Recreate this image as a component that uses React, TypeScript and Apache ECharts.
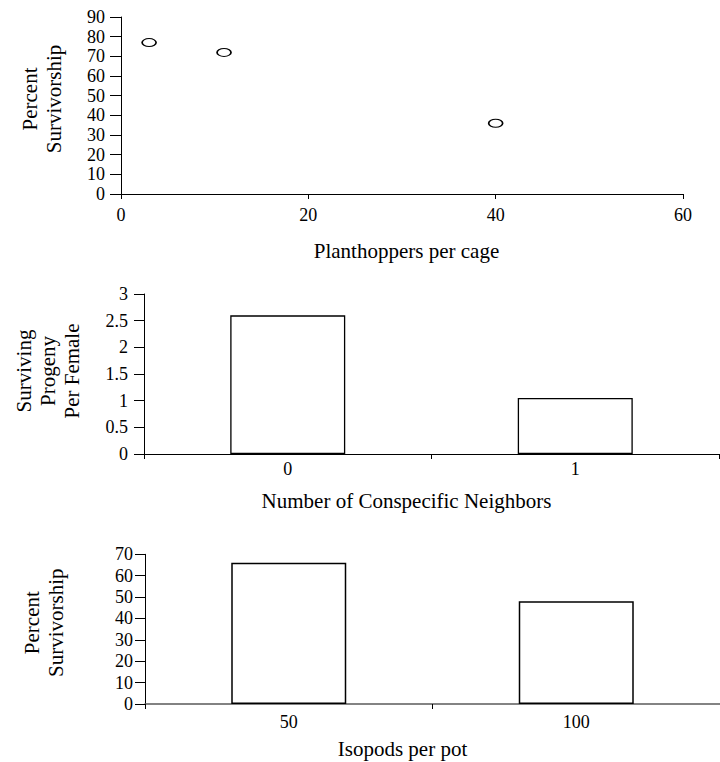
import React, { useEffect, useRef } from "react";
import * as echarts from "echarts";

// ---- Data ----
const planthopperPoints: [number, number][] = [
  [3, 77],
  [11, 72],
  [40, 36],
];
const neighborCategories = ["0", "1"];
const progenyValues = [2.6, 1.05];
const isopodCategories = ["50", "100"];
const isopodSurvival = [66, 48];

const FONT = '"Liberation Serif", "Times New Roman", Times, serif';
const TICK_FONT = 18;
const TITLE_FONT = 21;

const ellipsePath = "path://M0,4 A7,4 0 1,1 14,4 A7,4 0 1,1 0,4 Z";

export default function App() {
  const ref = useRef<HTMLDivElement>(null);

  useEffect(() => {
    document.body.style.margin = "0";
    if (!ref.current) return;
    const chart = echarts.init(ref.current, null, { renderer: "svg" });

    const axisLabel = (margin: number) => ({
      color: "#000",
      fontFamily: FONT,
      fontSize: TICK_FONT,
      margin,
    });
    const titleStyle = (padding: number[]) => ({
      color: "#000",
      fontFamily: FONT,
      fontSize: TITLE_FONT,
      lineHeight: 24,
      padding,
    });
    const blackLine = { lineStyle: { color: "#000", width: 1 } };

    chart.setOption({
      animation: false,
      backgroundColor: "#fff",
      grid: [
        { left: 121, top: 17, width: 562, height: 177 },
        { left: 144, top: 294, width: 575, height: 160 },
        { left: 145, top: 554.3, width: 585, height: 152.4 },
      ],
      xAxis: [
        {
          gridIndex: 0,
          type: "value",
          min: 0,
          max: 60,
          interval: 20,
          splitLine: { show: false },
          axisLine: { show: true, onZero: false, ...blackLine },
          axisTick: { show: true, length: 5, ...blackLine },
          axisLabel: axisLabel(12),
          name: "Planthoppers per cage",
          nameLocation: "middle",
          nameGap: 45,
          nameTextStyle: titleStyle([0, 0, 0, 9]),
        },
        {
          gridIndex: 1,
          type: "category",
          data: neighborCategories,
          axisLine: { show: true, ...blackLine },
          axisTick: { show: true, length: 5, ...blackLine },
          axisLabel: axisLabel(6),
          name: "Number of Conspecific Neighbors",
          nameLocation: "middle",
          nameGap: 35,
          nameTextStyle: titleStyle([0, 50, 0, 0]),
        },
        {
          gridIndex: 2,
          type: "category",
          data: isopodCategories,
          axisLine: { show: true, lineStyle: { color: "#5a5a5a", width: 1.5 } },
          axisTick: { show: true, length: 5, ...blackLine },
          axisLabel: axisLabel(9),
          name: "Isopods per pot",
          nameLocation: "middle",
          nameGap: 33,
          nameTextStyle: titleStyle([0, 60, 0, 0]),
        },
      ],
      yAxis: [
        {
          gridIndex: 0,
          type: "value",
          min: 0,
          max: 90,
          interval: 10,
          splitLine: { show: false },
          axisLine: { show: true, ...blackLine },
          axisTick: { show: true, length: 11, ...blackLine },
          axisLabel: axisLabel(16),
          name: "Percent\nSurvivorship",
          nameLocation: "middle",
          nameRotate: 90,
          nameGap: 55,
          nameTextStyle: titleStyle([0, 0, 0, 13]),
        },
        {
          gridIndex: 1,
          type: "value",
          min: 0,
          max: 3,
          interval: 0.5,
          splitLine: { show: false },
          axisLine: { show: true, ...blackLine },
          axisTick: { show: true, length: 10, ...blackLine },
          axisLabel: axisLabel(16),
          name: "Surviving\nProgeny\nPer Female",
          nameLocation: "middle",
          nameRotate: 90,
          nameGap: 60,
          nameTextStyle: titleStyle([0, 0, 0, 6]),
        },
        {
          gridIndex: 2,
          type: "value",
          min: 0,
          max: 70,
          interval: 10,
          splitLine: { show: false },
          axisLine: { show: true, ...blackLine },
          axisTick: { show: true, length: 10, ...blackLine },
          axisLabel: axisLabel(12),
          name: "Percent\nSurvivorship",
          nameLocation: "middle",
          nameRotate: 90,
          nameGap: 77,
          nameTextStyle: titleStyle([0, 0, 0, 13]),
        },
      ],
      series: [
        {
          type: "scatter",
          xAxisIndex: 0,
          yAxisIndex: 0,
          data: planthopperPoints,
          symbol: ellipsePath,
          symbolSize: [14, 8],
          itemStyle: { color: "#fff", borderColor: "#000", borderWidth: 1.3, opacity: 1 },
        },
        {
          type: "bar",
          xAxisIndex: 1,
          yAxisIndex: 1,
          data: progenyValues,
          barWidth: "40%",
          itemStyle: { color: "#fff", borderColor: "#000", borderWidth: 1.3 },
        },
        {
          type: "bar",
          xAxisIndex: 2,
          yAxisIndex: 2,
          data: isopodSurvival,
          barWidth: "40%",
          itemStyle: { color: "#fff", borderColor: "#000", borderWidth: 1.5 },
        },
      ],
    });

    return () => {
      chart.dispose();
    };
  }, []);

  return (
    <div
      ref={ref}
      style={{ position: "absolute", left: 0, top: 0, width: 720, height: 762 }}
    />
  );
}
